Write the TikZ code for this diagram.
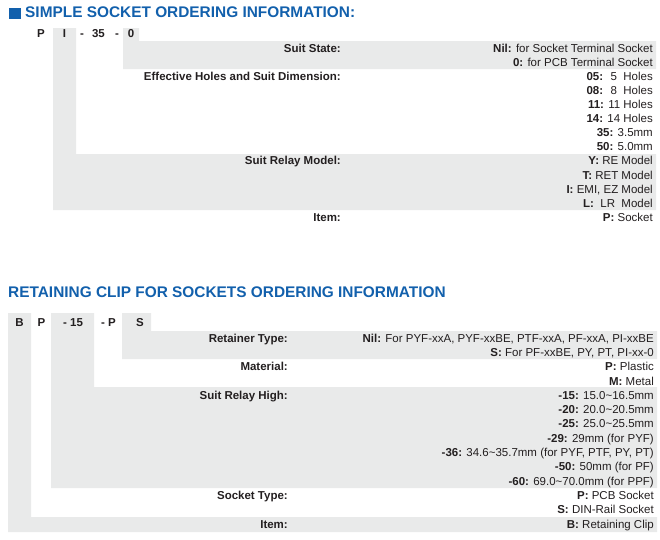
\documentclass[tikz,border=0pt]{standalone}
\usepackage{fontspec}
\setmainfont{Liberation Sans}
\definecolor{bandgray}{HTML}{E9EAEA}
\definecolor{titleblue}{HTML}{1260AC}
\definecolor{inkgray}{HTML}{231F20}
\begin{document}
\begin{tikzpicture}[x=1pt,y=-1pt,inner sep=0pt,
  every node/.style={text=inkgray,font=\fontsize{11.5}{13}\selectfont},
  band/.style={fill=bandgray},
  title/.style={anchor=base west,text=titleblue,font=\fontsize{15.4}{18}\selectfont\bfseries},
  code/.style={anchor=base,font=\fontsize{11.5}{13}\selectfont\bfseries},
  field/.style={anchor=base east,font=\fontsize{11.5}{13}\selectfont\bfseries},
  choice/.style={anchor=base east}]
\useasboundingbox (0,0) rectangle (660,539);

% simple socket
\fill[titleblue] (9,8) rectangle (21,19);
\node[title] (simpletitle) at (25,17) {SIMPLE SOCKET ORDERING INFORMATION:};
\fill[band] (123,28) rectangle (139,41) (123,41) rectangle (656,69);
\fill[band] (53,28) rectangle (76,154) (53,154) rectangle (656,210);
\foreach \x/\c [count=\i] in {41/P,64.5/I,82/-,98.5/35,117/-,131/0}
  \node[code] (tc\i) at (\x,37.1) {\c};
\foreach \r/\f [count=\i] in {0/Suit State:,2/Effective Holes and Suit Dimension:,8/Suit Relay Model:,12/Item:}
  \node[field] (tf\i) at (341,52.1+14.1*\r) {\f};
\foreach \k/\t [count=\i from 0] in {Nil:/for Socket Terminal Socket,0:/for PCB Terminal Socket,
    05:/{\ 5\ \ Holes},08:/{\ 8\ \ Holes},11:/11 Holes,14:/14 Holes,35:/3.5mm,50:/5.0mm,
    Y:/RE Model,T:/RET Model,I:/{EMI, EZ Model},L:/{\ LR\ \ Model},P:/Socket}
  \node[choice] (to\i) at (653,52.1+14.1*\i) {\textbf{\k} \t};

% retaining clip
\node[title] (cliptitle) at (8,297.7) {RETAINING CLIP FOR SOCKETS ORDERING INFORMATION};
\fill[band] (8,313) rectangle (31,532) (8,517) rectangle (657,532);
\fill[band] (51,313) rectangle (94,488) (51,387) rectangle (657,488);
\fill[band] (122,313) rectangle (151,359) (122,331) rectangle (657,359);
\foreach \x/\c [count=\i] in {19.5/B,41.5/P,73/- 15,108.5/- P,140/S}
  \node[code] (bc\i) at (\x,326.8) {\c};
\foreach \r/\f [count=\i] in {0/Retainer Type:,2/Material:,4/Suit Relay High:,11/Socket Type:,13/Item:}
  \node[field] (bf\i) at (288,342.1+14.3*\r) {\f};
\foreach \k/\t [count=\i from 0] in {Nil:/{For PYF-xxA, PYF-xxBE, PTF-xxA, PF-xxA, PI-xxBE},
    S:/{For PF-xxBE, PY, PT, PI-xx-0},P:/Plastic,M:/Metal,
    -15:/15.0\textasciitilde16.5mm,-20:/20.0\textasciitilde20.5mm,-25:/25.0\textasciitilde25.5mm,
    -29:/29mm (for PYF),-36:/{34.6\textasciitilde35.7mm (for PYF, PTF, PY, PT)},
    -50:/50mm (for PF),-60:/69.0\textasciitilde70.0mm (for PPF),
    P:/PCB Socket,S:/DIN-Rail Socket,B:/Retaining Clip}
  \node[choice] (bo\i) at (654,342.1+14.3*\i) {\textbf{\k} \t};
\end{tikzpicture}
\end{document}
